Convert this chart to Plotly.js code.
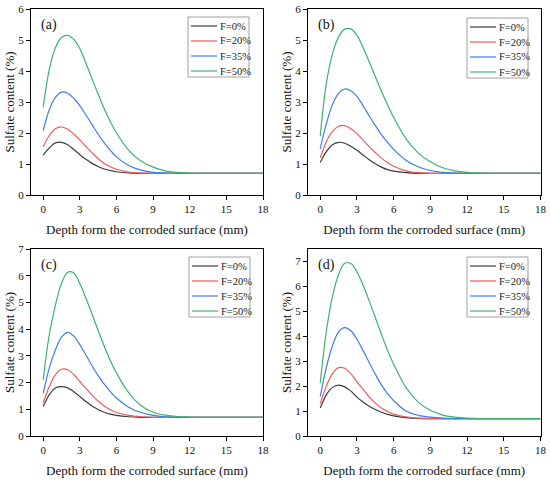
<!DOCTYPE html>
<html>
<head>
<meta charset="utf-8">
<script src="https://cdn.plot.ly/plotly-3.0.1.min.js"></script>
<style>html,body{margin:0;padding:0;background:#fff;}#chart{width:550px;height:481px;}</style>
</head>
<body>
<div id="chart"></div>
<script>
// Depth (mm) sample positions
const depth = [0, 0.5, 1, 1.5, 2, 2.5, 3, 3.5, 4, 4.5, 5, 5.5, 6, 7, 8, 9, 10, 11, 12, 13, 15, 18];
const seriesNames = ["F=0%", "F=20%", "F=35%", "F=50%"];
const panelLabels = ["(a)", "(b)", "(c)", "(d)"];
const xTitle = "Depth form the corroded surface (mm)";
const yTitle = "Sulfate content (%)";

// Panel (a)
const a_F0  = [1.29, 1.52, 1.68, 1.70, 1.62, 1.47, 1.30, 1.15, 1.02, 0.92, 0.84, 0.79, 0.75, 0.71, 0.70, 0.70, 0.70, 0.70, 0.70, 0.70, 0.70, 0.70];
const a_F20 = [1.56, 1.92, 2.14, 2.20, 2.12, 1.97, 1.78, 1.56, 1.36, 1.17, 1.02, 0.91, 0.83, 0.74, 0.71, 0.70, 0.70, 0.70, 0.70, 0.70, 0.70, 0.70];
const a_F35 = [2.08, 2.75, 3.15, 3.32, 3.28, 3.12, 2.88, 2.58, 2.27, 1.96, 1.68, 1.44, 1.23, 0.95, 0.80, 0.73, 0.71, 0.70, 0.70, 0.70, 0.70, 0.70];
const a_F50 = [2.83, 4.05, 4.75, 5.08, 5.15, 5.02, 4.72, 4.25, 3.75, 3.25, 2.78, 2.36, 2.00, 1.45, 1.10, 0.90, 0.78, 0.73, 0.71, 0.70, 0.70, 0.70];
// Panel (b)
const b_F0  = [1.05, 1.40, 1.62, 1.70, 1.67, 1.57, 1.44, 1.29, 1.14, 1.01, 0.90, 0.82, 0.77, 0.72, 0.70, 0.70, 0.70, 0.70, 0.70, 0.70, 0.70, 0.70];
const b_F20 = [1.20, 1.72, 2.05, 2.22, 2.24, 2.14, 1.98, 1.77, 1.56, 1.37, 1.19, 1.05, 0.93, 0.78, 0.72, 0.70, 0.70, 0.70, 0.70, 0.70, 0.70, 0.70];
const b_F35 = [1.49, 2.30, 2.92, 3.28, 3.42, 3.36, 3.18, 2.88, 2.55, 2.24, 1.95, 1.70, 1.47, 1.12, 0.91, 0.79, 0.73, 0.71, 0.70, 0.70, 0.70, 0.70];
const b_F50 = [1.90, 3.60, 4.55, 5.10, 5.35, 5.36, 5.15, 4.76, 4.30, 3.82, 3.35, 2.91, 2.50, 1.82, 1.36, 1.07, 0.88, 0.78, 0.73, 0.71, 0.70, 0.70];
// Panel (c)
const c_F0  = [1.10, 1.55, 1.80, 1.85, 1.80, 1.66, 1.48, 1.29, 1.12, 0.99, 0.89, 0.82, 0.77, 0.72, 0.70, 0.70, 0.70, 0.70, 0.70, 0.70, 0.70, 0.70];
const c_F20 = [1.25, 1.85, 2.30, 2.50, 2.48, 2.30, 2.04, 1.78, 1.53, 1.30, 1.12, 0.98, 0.88, 0.77, 0.72, 0.70, 0.70, 0.70, 0.70, 0.70, 0.70, 0.70];
const c_F35 = [1.60, 2.55, 3.22, 3.70, 3.88, 3.74, 3.42, 3.03, 2.63, 2.26, 1.94, 1.66, 1.42, 1.08, 0.88, 0.77, 0.72, 0.70, 0.70, 0.70, 0.70, 0.70];
const c_F50 = [2.10, 3.80, 4.90, 5.72, 6.13, 6.10, 5.70, 5.16, 4.57, 3.95, 3.36, 2.82, 2.36, 1.62, 1.14, 0.89, 0.78, 0.73, 0.71, 0.70, 0.70, 0.70];
// Panel (d)
const d_F0  = [1.12, 1.65, 1.95, 2.04, 1.97, 1.80, 1.56, 1.36, 1.19, 1.06, 0.95, 0.87, 0.81, 0.74, 0.71, 0.70, 0.70, 0.70, 0.70, 0.70, 0.70, 0.70];
const d_F20 = [1.30, 2.00, 2.50, 2.74, 2.72, 2.50, 2.17, 1.87, 1.57, 1.32, 1.12, 0.98, 0.88, 0.77, 0.72, 0.70, 0.70, 0.70, 0.70, 0.70, 0.70, 0.70];
const d_F35 = [1.58, 2.75, 3.62, 4.18, 4.35, 4.22, 3.88, 3.43, 2.95, 2.48, 2.05, 1.70, 1.42, 1.00, 0.83, 0.76, 0.72, 0.70, 0.70, 0.70, 0.70, 0.70];
const d_F50 = [2.12, 4.20, 5.60, 6.48, 6.93, 6.92, 6.58, 6.05, 5.42, 4.75, 4.08, 3.44, 2.88, 1.95, 1.36, 1.03, 0.84, 0.76, 0.72, 0.70, 0.70, 0.70];

const panels = [
  [a_F0, a_F20, a_F35, a_F50],
  [b_F0, b_F20, b_F35, b_F50],
  [c_F0, c_F20, c_F35, c_F50],
  [d_F0, d_F20, d_F35, d_F50]
];
const yRanges = [[0, 6], [0, 6], [0, 7], [0, 7.5]];
const colors = ["#3c3c3c", "#f05a5a", "#3c7ef0", "#3cb46e"];
const FONT = "Liberation Serif, serif";

const W = 550, H = 481;
const xDom = [[31, 263], [308, 540.5], [31, 263], [308, 540.5]];
const yDom = [[9, 195], [9, 195], [249, 436], [249, 436]];
const legBox = [[188, 17], [467, 18], [189, 257], [467, 257]]; // left, top (px)

const traces = [];
const layout = {
  width: W, height: H,
  margin: {l: 0, r: 0, t: 0, b: 0},
  paper_bgcolor: "#fff", plot_bgcolor: "#fff",
  font: {family: FONT, color: "#111", size: 11},
  showlegend: false,
  annotations: [],
  shapes: []
};
const px = v => v / W, py = v => 1 - v / H;

panels.forEach((p, i) => {
  const n = i + 1;
  const xa = "x" + (n === 1 ? "" : n), ya = "y" + (n === 1 ? "" : n);
  p.forEach((vals, k) => {
    traces.push({
      x: depth, y: vals, type: "scatter", mode: "lines",
      name: seriesNames[k], xaxis: xa, yaxis: ya,
      line: {color: colors[k], width: 1.2, shape: "spline", smoothing: 1}
    });
  });
  const axCommon = {
    showline: true, linecolor: "#000", linewidth: 1, mirror: true,
    ticks: "outside", ticklen: 4, tickcolor: "#000", tickwidth: 1,
    showgrid: false, zeroline: false,
    tickfont: {family: FONT, size: 11, color: "#111"}
  };
  layout["xaxis" + (n === 1 ? "" : n)] = Object.assign({}, axCommon, {
    domain: [px(xDom[i][0]), px(xDom[i][1])],
    anchor: ya, range: [-1, 18], tick0: 0, dtick: 3,
    title: {text: xTitle, font: {family: FONT, size: 13, color: "#111"}, standoff: 10}
  });
  layout["yaxis" + (n === 1 ? "" : n)] = Object.assign({}, axCommon, {
    domain: [py(yDom[i][1]), py(yDom[i][0])],
    anchor: xa, range: yRanges[i], tick0: 0, dtick: 1,
    title: {text: yTitle, font: {family: FONT, size: 13, color: "#111"}, standoff: 0}
  });
  // legend box drawn with shapes + text
  const L = legBox[i][0], T = legBox[i][1];
  layout.shapes.push({type: "rect", xref: "paper", yref: "paper",
    x0: px(L), x1: px(L + 61), y0: py(T + 60), y1: py(T),
    line: {color: "#a0a0a0", width: 1}, fillcolor: "rgba(0,0,0,0)"});
  seriesNames.forEach((nm, k) => {
    const yy = T + 9 + k * 15;
    layout.shapes.push({type: "line", xref: "paper", yref: "paper",
      x0: px(L + 3), x1: px(L + 29), y0: py(yy), y1: py(yy),
      line: {color: colors[k], width: 1.2}});
    layout.annotations.push({text: nm, xref: "paper", yref: "paper",
      x: px(L + 30), y: py(yy), xanchor: "left", yanchor: "middle", showarrow: false,
      font: {family: FONT, size: 10.5, color: "#222"}});
  });
  layout.annotations.push({
    text: panelLabels[i], xref: xa + " domain", yref: ya + " domain",
    x: 0.035, y: 0.915, xanchor: "left", yanchor: "middle", showarrow: false,
    font: {family: FONT, size: 14, color: "#111"}
  });
});

Plotly.newPlot("chart", traces, layout, {displayModeBar: false, staticPlot: true});
</script>
</body>
</html>
